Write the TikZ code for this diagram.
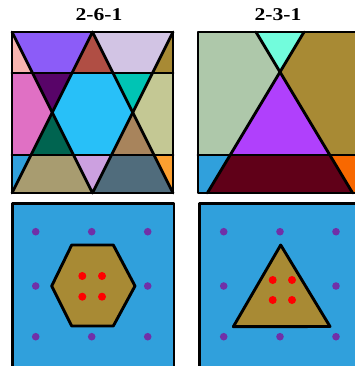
\documentclass[tikz,border=0pt]{standalone}
\usepackage{fontspec}
\setmainfont{Liberation Serif}
\begin{document}
\begin{tikzpicture}[x=1pt,y=-1pt,
  edge/.style={line width=2.9pt,line join=round,line cap=round},
  title/.style={font=\fontsize{18}{20}\selectfont\bfseries},
  pdot/.style={fill=dotpurple},
  rdot/.style={fill=red}]
\definecolor{cpink}{HTML}{F8B4B0}
\definecolor{cpurple}{HTML}{8C5CF8}
\definecolor{cbrick}{HTML}{B04E44}
\definecolor{clav}{HTML}{D2C4E4}
\definecolor{cgold}{HTML}{A88A34}
\definecolor{cmag}{HTML}{E070C4}
\definecolor{cdpurple}{HTML}{580468}
\definecolor{chex}{HTML}{28C0F8}
\definecolor{cteal}{HTML}{00C4B4}
\definecolor{ckhaki}{HTML}{C4C894}
\definecolor{cdgreen}{HTML}{006450}
\definecolor{ctan}{HTML}{A8845C}
\definecolor{cblue}{HTML}{30A0DC}
\definecolor{colive}{HTML}{A89C70}
\definecolor{clilac}{HTML}{CCA0E0}
\definecolor{cslate}{HTML}{506C7C}
\definecolor{corange}{HTML}{FCA030}
\definecolor{csage}{HTML}{AEC8AA}
\definecolor{caqua}{HTML}{72FCDC}
\definecolor{cviolet}{HTML}{B040FC}
\definecolor{cmaroon}{HTML}{600018}
\definecolor{corange2}{HTML}{F86800}
\definecolor{dotpurple}{HTML}{7030A8}
\useasboundingbox (0,0) rectangle (355,366);
\clip (0,0) rectangle (355,366);
% titles
\node[title] (t1) at (99,15) {\scalebox{1.2}[1]{2-6-1}};
\node[title] (t2) at (278,15) {\scalebox{1.2}[1]{2-3-1}};
% ---------- panel A ----------
\fill[cpink] (12,32) -- (12,73) -- (32.5,73) -- cycle;
\fill[cpurple] (12,32) -- (92.5,32) -- (72,73) -- (32.5,73) -- cycle;
\fill[cbrick] (92.5,32) -- (113,73) -- (72,73) -- cycle;
\fill[clav] (92.5,32) -- (173,32) -- (152.5,73) -- (113,73) -- cycle;
\fill[cgold] (173,32) -- (173,73) -- (152.5,73) -- cycle;
\fill[cmag] (12,73) -- (32.5,73) -- (52.25,112.5) -- (31,155) -- (12,155) -- cycle;
\fill[cdpurple] (32.5,73) -- (72,73) -- (52.25,112.5) -- cycle;
\fill[chex] (72,73) -- (113,73) -- (132.75,112.5) -- (111.5,155) -- (73.5,155) -- (52.25,112.5) -- cycle;
\fill[cteal] (113,73) -- (152.5,73) -- (132.75,112.5) -- cycle;
\fill[ckhaki] (152.5,73) -- (173,73) -- (173,155) -- (154,155) -- (132.75,112.5) -- cycle;
\fill[cdgreen] (52.25,112.5) -- (73.5,155) -- (31,155) -- cycle;
\fill[ctan] (132.75,112.5) -- (154,155) -- (111.5,155) -- cycle;
\fill[cblue] (12,155) -- (31,155) -- (12,193) -- cycle;
\fill[colive] (31,155) -- (73.5,155) -- (92.5,193) -- (12,193) -- cycle;
\fill[clilac] (73.5,155) -- (111.5,155) -- (92.5,193) -- cycle;
\fill[cslate] (111.5,155) -- (154,155) -- (173,193) -- (92.5,193) -- cycle;
\fill[corange] (154,155) -- (173,155) -- (173,193) -- cycle;
\draw[edge] (12,73) -- (173,73) (12,155) -- (173,155);
\draw[edge] (12,32) -- (92.5,193) -- (173,32);
\draw[edge] (12,193) -- (92.5,32) -- (173,193);
\draw[edge] (12,32) rectangle (173,193);
% ---------- panel B ----------
\fill[csage] (198,32) -- (256,32) -- (280,72) -- (230.2,155) -- (198,155) -- cycle;
\fill[caqua] (256,32) -- (304,32) -- (280,72) -- cycle;
\fill[cgold] (304,32) -- (360,32) -- (360,155) -- (329.8,155) -- (280,72) -- cycle;
\fill[cviolet] (280,72) -- (329.8,155) -- (230.2,155) -- cycle;
\fill[cblue] (198,155) -- (230.2,155) -- (207.4,193) -- (198,193) -- cycle;
\fill[cmaroon] (230.2,155) -- (329.8,155) -- (352.6,193) -- (207.4,193) -- cycle;
\fill[corange2] (329.8,155) -- (360,155) -- (360,193) -- (352.6,193) -- cycle;
\draw[edge] (198,155) -- (360,155);
\draw[edge] (256,32) -- (352.6,193);
\draw[edge] (304,32) -- (207.4,193);
\draw[edge] (198,32) rectangle (360,193);
% ---------- panel C ----------
\fill[cblue] (12.7,203.5) rectangle (174,368);
\foreach \x in {35.7,91.7,147.7}
  \foreach \y in {231.7,286,336.7}
    \fill[pdot] (\x,\y) circle (3.8);
\fill[cgold] (71.7,245) -- (113.3,245) -- (135,286) -- (113.3,326) -- (71.7,326) -- (51.7,286) -- cycle;
\draw[edge] (71.7,245) -- (113.3,245) -- (135,286) -- (113.3,326) -- (71.7,326) -- (51.7,286) -- cycle;
\foreach \x in {82.3,102}
  \foreach \y in {276,296.7}
    \fill[rdot] (\x,\y) circle (4);
\draw[edge] (12.7,203.5) rectangle (174,368);
% ---------- panel D ----------
\fill[cblue] (199.3,203.5) rectangle (360,368);
\foreach \x in {223.7,280,336}
  \foreach \y in {231.7,286,336.7}
    \fill[pdot] (\x,\y) circle (3.8);
\fill[cgold] (280.7,245) -- (330,326.5) -- (233.3,326.7) -- cycle;
\draw[edge] (280.7,245) -- (330,326.5) -- (233.3,326.7) -- cycle;
\foreach \x in {272.7,292}
  \foreach \y in {280,300}
    \fill[rdot] (\x,\y) circle (4);
\draw[edge] (199.3,203.5) rectangle (360,368);
\end{tikzpicture}
\end{document}
